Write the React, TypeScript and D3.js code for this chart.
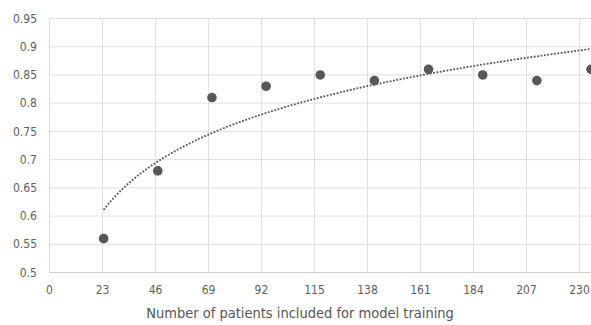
import React from "react";
import * as d3 from "d3";

const patients = [23.5, 47, 70.5, 94, 117.5, 141, 164.5, 188, 211.5, 235];
const scores = [0.56, 0.68, 0.81, 0.83, 0.85, 0.84, 0.86, 0.85, 0.84, 0.86];
const xTicks = [0, 23, 46, 69, 92, 115, 138, 161, 184, 207, 230];
const yTicks = [0.5, 0.55, 0.6, 0.65, 0.7, 0.75, 0.8, 0.85, 0.9, 0.95];
const xTitle = "Number of patients included for model training";

const W = 591;
const H = 325;
const FONT = "'DejaVu Sans Condensed', 'DejaVu Sans', sans-serif";

export default function App() {
  const x = d3.scaleLinear().domain([0, 235]).range([49.5, 591]);
  const y = d3.scaleLinear().domain([0.5, 0.95]).range([272.5, 18.5]);

  // logarithmic trendline (least squares on ln x)
  const lx = patients.map((p) => Math.log(p));
  const mx = d3.mean(lx) as number;
  const my = d3.mean(scores) as number;
  let sxy = 0, sxx = 0;
  lx.forEach((v, i) => {
    sxy += (v - mx) * (scores[i] - my);
    sxx += (v - mx) * (v - mx);
  });
  const b = sxy / sxx;
  const a = my - b * mx;
  const trendX = d3.range(patients[0], patients[patients.length - 1] + 0.5, 1);
  const line = d3
    .line<number>()
    .x((d) => x(d))
    .y((d) => y(a + b * Math.log(d)));

  return (
    <svg width={W} height={H} style={{ position: "absolute", left: 0, top: 0, background: "#fff" }}>
      <g>
        {yTicks.map((t) => (
          <line key={"gy" + t} x1={x(0)} x2={W} y1={y(t)} y2={y(t)} stroke="#e0e0e0" strokeWidth={1} />
        ))}
        {xTicks.map((t) => (
          <line key={"gx" + t} x1={x(t)} x2={x(t)} y1={y(0.95)} y2={y(0.5)} stroke="#e0e0e0" strokeWidth={1} />
        ))}
        <line x1={x(0)} x2={W} y1={y(0.5)} y2={y(0.5)} stroke="#d0d0d0" strokeWidth={1} />
      </g>
      <g fontFamily={FONT} fontSize={12} fill="#5e5e5e">
        {yTicks.map((t) => (
          <text key={"ty" + t} x={37} y={y(t)} dy="0.35em" textAnchor="end">
            {String(t)}
          </text>
        ))}
        {xTicks.map((t) => (
          <text key={"tx" + t} x={x(t)} y={290} dy="0.35em" textAnchor="middle">
            {t}
          </text>
        ))}
        <text x={300} y={313} dy="0.35em" textAnchor="middle" fontSize={14.5} fill="#555">
          {xTitle}
        </text>
      </g>
      <path d={line(trendX) || ""} fill="none" stroke="#555" strokeWidth={1.8} strokeDasharray="1.8 1.6" />
      <g>
        {patients.map((p, i) => (
          <circle key={"c" + i} cx={x(p)} cy={y(scores[i])} r={4.8} fill="#575757" />
        ))}
      </g>
    </svg>
  );
}
